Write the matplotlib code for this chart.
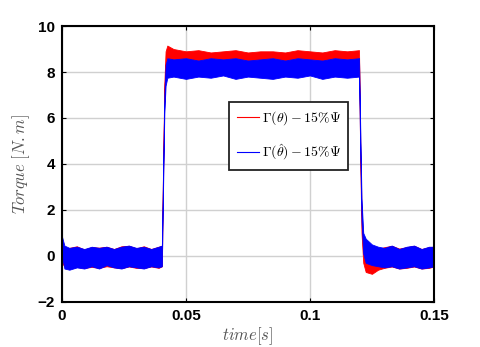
import matplotlib
matplotlib.use("Agg")
import matplotlib.pyplot as plt

plt.rcParams["mathtext.fontset"] = "cm"

# time grid [s]
T = [0, 0.001, 0.003, 0.006, 0.009, 0.012, 0.015, 0.018, 0.021, 0.024, 0.027,
     0.030, 0.033, 0.036, 0.039, 0.0403,
     0.0408, 0.0413, 0.0418, 0.0425,
     0.045, 0.050, 0.055, 0.060, 0.065, 0.070, 0.075, 0.080, 0.085, 0.090,
     0.095, 0.100, 0.105, 0.110, 0.115, 0.1198,
     0.1203, 0.1208, 0.1215, 0.1225,
     0.125, 0.1275,
     0.130, 0.133, 0.136, 0.139, 0.142, 0.145, 0.148, 0.150]

# ripple envelope of Gamma(theta) (red)
RED_UP = [0.3, 0.2, 0.35, 0.42, 0.28, 0.38, 0.36, 0.4, 0.3, 0.42, 0.44, 0.33, 0.42, 0.3, 0.4, 0.44,
          4.0, 7.5, 8.9, 9.15,
          9.0, 8.9, 8.95, 8.85, 8.9, 8.95, 8.85, 8.9, 8.9, 8.85, 8.95, 8.9, 8.85, 8.95, 8.9, 8.95,
          5.0, 2.0, 0.6, 0.1,
          0.2, 0.3,
          0.38, 0.44, 0.32, 0.38, 0.44, 0.3, 0.38, 0.4]
RED_LO = [-0.3, -0.45, -0.55, -0.48, -0.52, -0.48, -0.52, -0.45, -0.5, -0.53, -0.46, -0.52, -0.52, -0.46, -0.52, -0.45,
          3.5, 7.0, 8.3, 8.6,
          8.55, 8.6, 8.5, 8.6, 8.55, 8.6, 8.5, 8.55, 8.6, 8.5, 8.6, 8.55, 8.5, 8.6, 8.55, 8.6,
          4.0, 1.0, -0.3, -0.7,
          -0.78, -0.6,
          -0.52, -0.46, -0.55, -0.52, -0.46, -0.55, -0.52, -0.46]

# ripple envelope of Gamma(theta_hat) (blue)
BLUE_UP = [0.85, 0.45, 0.35, 0.4, 0.3, 0.4, 0.35, 0.4, 0.3, 0.4, 0.45, 0.35, 0.4, 0.3, 0.4, 0.45,
           3.8, 7.0, 8.3, 8.6,
           8.55, 8.6, 8.5, 8.6, 8.55, 8.6, 8.5, 8.55, 8.6, 8.5, 8.6, 8.55, 8.5, 8.6, 8.55, 8.6,
           5.5, 2.5, 1.0, 0.75,
           0.5, 0.4,
           0.35, 0.45, 0.3, 0.4, 0.45, 0.3, 0.4, 0.4]
BLUE_LO = [0.0, -0.55, -0.6, -0.5, -0.55, -0.45, -0.55, -0.4, -0.5, -0.55, -0.45, -0.5, -0.55, -0.45, -0.5, -0.45,
           3.0, 6.2, 7.4, 7.75,
           7.8, 7.7, 7.8, 7.75, 7.85, 7.7, 7.8, 7.75, 7.7, 7.8, 7.75, 7.85, 7.7, 7.8, 7.75, 7.8,
           4.5, 1.5, 0.1, -0.3,
           -0.4, -0.45,
           -0.5, -0.45, -0.55, -0.5, -0.45, -0.55, -0.5, -0.45]

X_TICKS = [0, 0.05, 0.1, 0.15]
X_TICKLABELS = ["0", "0.05", "0.1", "0.15"]
Y_TICKS = [-2, 0, 2, 4, 6, 8, 10]

fig = plt.figure(figsize=(4.8, 3.47), dpi=100)
ax = fig.add_axes([0.129, 0.130, 0.775, 0.795])

ax.fill_between(T, RED_LO, RED_UP, color="red", lw=0.6, edgecolor="red")
ax.fill_between(T, BLUE_LO, BLUE_UP, color="blue", lw=0.6, edgecolor="blue")
ax.plot([], [], color="red", lw=0.8, label=r"$\Gamma(\theta) - 15\%\Psi$")
ax.plot([], [], color="blue", lw=0.8, label=r"$\Gamma(\hat{\theta}) - 15\%\Psi$")

ax.set_xlim(0, 0.15)
ax.set_ylim(-2, 10)
ax.set_xticks(X_TICKS)
ax.set_xticklabels(X_TICKLABELS)
ax.set_yticks(Y_TICKS)
for lab in ax.get_xticklabels() + ax.get_yticklabels():
    lab.set_family("Liberation Sans")
    lab.set_fontweight("bold")
    lab.set_fontsize(11)
ax.tick_params(direction="in", top=True, right=True, length=3, width=0.8, pad=5)
ax.grid(True, color="#d0d0d0", lw=1)
ax.set_axisbelow(True)
for s in ax.spines.values():
    s.set_linewidth(1.5)

ax.set_xlabel(r"$time[s]$", fontsize=12, color="#555555", labelpad=2)
ax.set_ylabel(r"$Torque\ [N.m]$", fontsize=12, color="#555555", labelpad=4)

leg = ax.legend(loc="upper left", bbox_to_anchor=(0.449, 0.725), borderaxespad=0,
                fontsize=10, handlelength=1.6, labelspacing=1.1, borderpad=0.55,
                handletextpad=0.2, fancybox=False, framealpha=1)
leg.get_frame().set_edgecolor("#222222")
leg.get_frame().set_linewidth(1.3)

fig.savefig("out.png", dpi=100)
